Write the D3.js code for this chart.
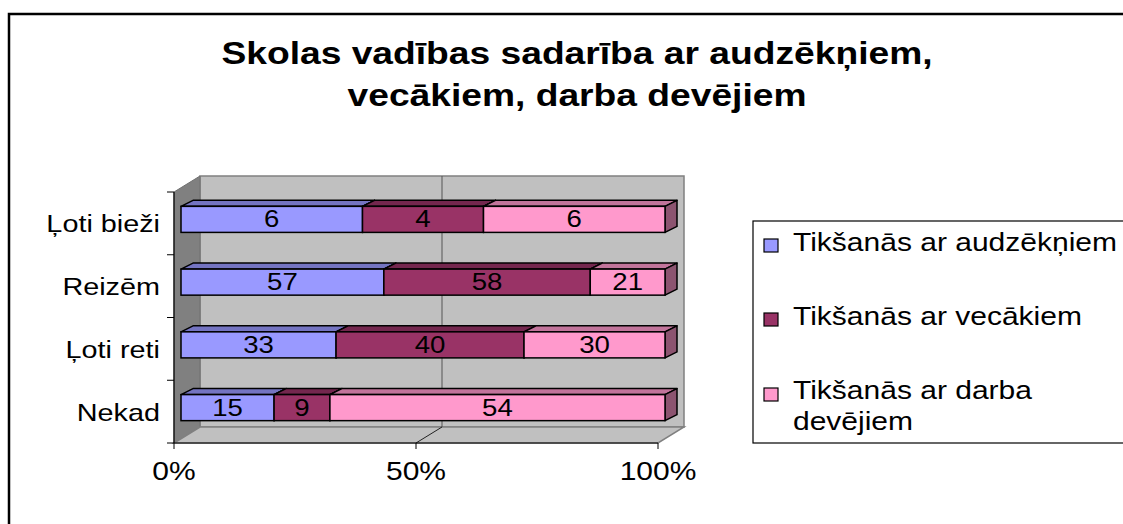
<!DOCTYPE html>
<html>
<head>
<meta charset="utf-8">
<script src="https://cdnjs.cloudflare.com/ajax/libs/d3/7.8.5/d3.min.js"></script>
<style>
  body { margin: 0; background: #fff; }
  svg { display: block; font-family: Arial, "Liberation Sans", sans-serif; }
</style>
</head>
<body>
<svg id="chart" width="1123" height="524"></svg>
<script>
const categories = ["Ļoti bieži", "Reizēm", "Ļoti reti", "Nekad"];
const seriesNames = ["Tikšanās ar audzēkņiem", "Tikšanās ar vecākiem", "Tikšanās ar darba devējiem"];
const audzekni = [6, 57, 33, 15];
const vecaki = [4, 58, 40, 9];
const devejiem = [6, 21, 30, 54];
const xTicks = [0, 0.5, 1];
const colors = ["#9999FF", "#993366", "#FF99CC"];

const svg = d3.select("#chart");
const SX = 1.2; // the picture is stretched sideways, text too

function label(sel, x, y, txt, size, anchor, weight) {
  return sel.append("text")
    .attr("transform", `translate(${x},${y}) scale(${SX},1)`)
    .attr("text-anchor", anchor || "middle")
    .attr("font-size", size)
    .attr("font-weight", weight || "normal")
    .attr("fill", "#000")
    .text(txt);
}

// outer chart frame (runs past right and bottom edges)
svg.append("rect")
  .attr("x", 9).attr("y", 14).attr("width", 1130).attr("height", 530)
  .attr("fill", "#fff").attr("stroke", "#000").attr("stroke-width", 2.5);

// title
label(svg, 577, 64, "Skolas vadības sadarība ar audzēkņiem,", 31, "middle", "bold");
label(svg, 577, 106, "vecākiem, darba devējiem", 31, "middle", "bold");

// plot geometry
const front = { left: 174, right: 658, top: 192, bottom: 443 };
const depth = [26, -16];
const x = d3.scaleLinear().domain([0, 1]).range([front.left, front.right]);
const y = d3.scaleBand().domain(categories).range([front.top, front.bottom])
  .paddingInner(0.585).paddingOuter(0.2925);
const barOff = [7, -4];   // bar front face offset inside the depth
const barDepth = [12, -6];

const pts = a => a.map(p => p.join(",")).join(" ");

// walls
const bx0 = front.left + depth[0], by0 = front.top + depth[1];
const bx1 = front.right + depth[0], by1 = front.bottom + depth[1];
svg.append("rect")
  .attr("x", bx0).attr("y", by0).attr("width", bx1 - bx0).attr("height", by1 - by0)
  .attr("fill", "#C0C0C0").attr("stroke", "#808080").attr("stroke-width", 1.5);
svg.append("polygon")
  .attr("points", pts([[front.left, front.top], [bx0, by0], [bx0, by1], [front.left, front.bottom]]))
  .attr("fill", "#808080").attr("stroke", "#707070");
svg.append("polygon")
  .attr("points", pts([[front.left, front.bottom], [bx0, by1], [bx1, by1], [front.right, front.bottom]]))
  .attr("fill", "#C0C0C0").attr("stroke", "#808080").attr("stroke-width", 1.5);

// gridlines
xTicks.filter(t => t > 0 && t < 1).forEach(t => {
  svg.append("line")
    .attr("x1", x(t) + depth[0]).attr("x2", x(t) + depth[0])
    .attr("y1", by0).attr("y2", by1)
    .attr("stroke", "#555").attr("stroke-width", 1);
  svg.append("line")
    .attr("x1", x(t)).attr("y1", front.bottom)
    .attr("x2", x(t) + depth[0]).attr("y2", by1)
    .attr("stroke", "#222").attr("stroke-width", 1);
});

// axes
svg.append("line")
  .attr("x1", front.left).attr("x2", front.right)
  .attr("y1", front.bottom).attr("y2", front.bottom)
  .attr("stroke", "#000").attr("stroke-width", 1.2);
svg.append("line")
  .attr("x1", front.left).attr("x2", front.left)
  .attr("y1", front.top).attr("y2", front.bottom)
  .attr("stroke", "#000").attr("stroke-width", 1.2);

xTicks.forEach(t => {
  svg.append("line")
    .attr("x1", x(t)).attr("x2", x(t))
    .attr("y1", front.bottom).attr("y2", front.bottom + 6)
    .attr("stroke", "#000");
  label(svg, x(t), 480, d3.format(".0%")(t), 25, "middle");
});

const bounds = categories.map(c => y(c) - y.step() * y.paddingInner() / 2)
  .concat([front.bottom]);
bounds.forEach(b => {
  svg.append("line")
    .attr("x1", front.left - 7).attr("x2", front.left)
    .attr("y1", b).attr("y2", b)
    .attr("stroke", "#000");
});

categories.forEach(c => {
  const cy = y(c) + y.bandwidth() / 2;
  label(svg, 160, cy + 9, c, 24, "end");
});

// stacked 100% bars
const rows = categories.map((c, i) => ({
  cat: c, s0: audzekni[i], s1: vecaki[i], s2: devejiem[i]
}));
const stack = d3.stack().keys(["s0", "s1", "s2"]).offset(d3.stackOffsetExpand);
const layers = stack(rows);

const bars = svg.append("g");
rows.forEach((r, ri) => {
  layers.forEach((layer, si) => {
    const d = layer[ri];
    const col = d3.color(colors[si]);
    const xa = x(d[0]) + barOff[0], xb = x(d[1]) + barOff[0];
    const ya = y(r.cat) + barOff[1], yb = ya + y.bandwidth();
    const top = d3.rgb(col.r * 0.76, col.g * 0.76, col.b * 0.76);
    const side = d3.rgb(col.r * 0.55, col.g * 0.55, col.b * 0.55);
    bars.append("polygon")
      .attr("points", pts([[xa, ya], [xa + barDepth[0], ya + barDepth[1]],
        [xb + barDepth[0], ya + barDepth[1]], [xb, ya]]))
      .attr("fill", top).attr("stroke", "#000").attr("stroke-width", 1.5)
      .attr("stroke-linejoin", "round");
    bars.append("polygon")
      .attr("points", pts([[xb, ya], [xb + barDepth[0], ya + barDepth[1]],
        [xb + barDepth[0], yb + barDepth[1]], [xb, yb]]))
      .attr("fill", side).attr("stroke", "#000").attr("stroke-width", 1.5)
      .attr("stroke-linejoin", "round");
    bars.append("rect")
      .attr("x", xa).attr("y", ya).attr("width", xb - xa).attr("height", yb - ya)
      .attr("fill", colors[si]).attr("stroke", "#000").attr("stroke-width", 1.5);
  });
  layers.forEach((layer, si) => {
    const d = layer[ri];
    const cx = (x(d[0]) + x(d[1])) / 2 + barOff[0];
    const cy = y(r.cat) + barOff[1] + y.bandwidth() / 2;
    label(bars, cx, cy + 8, d.data["s" + si], 23, "middle");
  });
});

// legend
const lg = svg.append("g");
lg.append("rect")
  .attr("x", 753).attr("y", 221).attr("width", 400).attr("height", 222)
  .attr("fill", "#fff").attr("stroke", "#000").attr("stroke-width", 1.2);
const legendY = [239, 313, 388];
seriesNames.forEach((name, i) => {
  lg.append("rect")
    .attr("x", 764).attr("y", legendY[i]).attr("width", 14).attr("height", 13)
    .attr("fill", colors[i]).attr("stroke", "#000").attr("stroke-width", 1.2);
  if (i < 2) {
    label(lg, 793, legendY[i] + 12, name, 25, "start");
  } else {
    label(lg, 793, legendY[i] + 11, "Tikšanās ar darba", 25, "start");
    label(lg, 793, legendY[i] + 42, "devējiem", 25, "start");
  }
});
</script>
</body>
</html>
